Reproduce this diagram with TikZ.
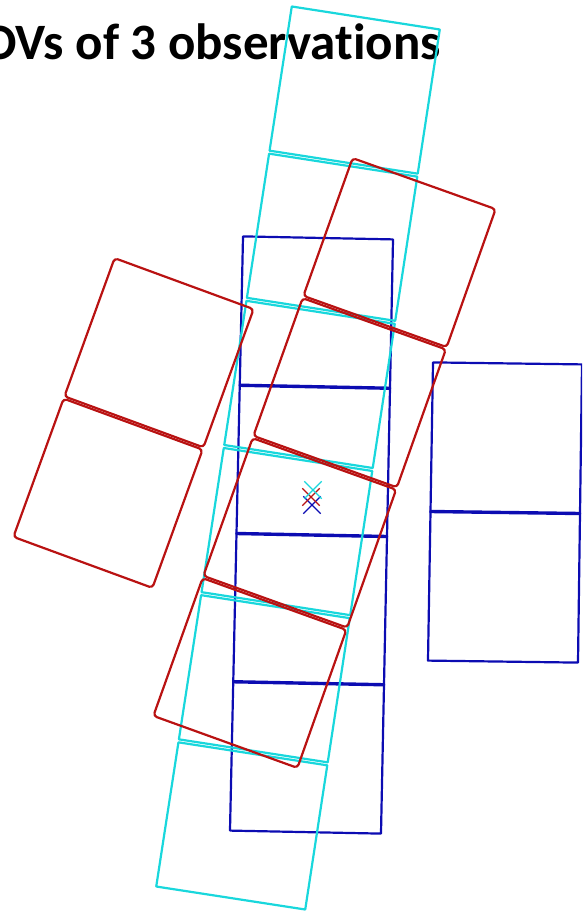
\documentclass[tikz,border=0pt]{standalone}
\usepackage{fontspec}
\setmainfont{Carlito}[Ligatures=NoCommon]
\usetikzlibrary{calc, shapes.misc}
\definecolor{fovcyan}{RGB}{25,215,220}
\definecolor{fovblue}{RGB}{12,12,178}
\definecolor{fovred}{RGB}{185,18,18}

\begin{document}
\begin{tikzpicture}[
  x=1pt, y=-1pt,
  cell/.style={line width=2.2pt, line join=round},
  cyancell/.style={cell, draw=fovcyan},
  bluecell/.style={cell, draw=fovblue},
  redcell/.style={cell, draw=fovred, rounded corners=3.5pt},
  xmark/.style={cross out, draw=#1, line width=1.4pt, minimum size=16pt, inner sep=0pt}
]
\clip (0,0) rectangle (582,915);

% title (left end cut off by the frame)
\node[anchor=base east, inner sep=0pt, font=\fontsize{51}{60}\selectfont\bfseries] (title) at (441,60) {FOVs of 3 observations};

% blue observation, centre strip (4 cells)
\coordinate (bTL) at (243,237);
\coordinate (bTR) at (393,240);
\coordinate (bBL) at (230,830);
\coordinate (bBR) at (381,833);
\foreach \i [evaluate=\i as \ta using \i/4-0.001, evaluate=\i as \tb using (\i+1)/4+0.001] in {0,...,3}
  \draw[bluecell] ($(bTL)!\ta!(bBL)$) -- ($(bTR)!\ta!(bBR)$) -- ($(bTR)!\tb!(bBR)$) -- ($(bTL)!\tb!(bBL)$) -- cycle;

% blue observation, right strip (2 cells)
\coordinate (rTL) at (433,363);
\coordinate (rTR) at (582,365);
\coordinate (rBL) at (428,660);
\coordinate (rBR) at (578,662);
\foreach \i [evaluate=\i as \ta using \i/2-0.002, evaluate=\i as \tb using (\i+1)/2+0.002] in {0,1}
  \draw[bluecell] ($(rTL)!\ta!(rBL)$) -- ($(rTR)!\ta!(rBR)$) -- ($(rTR)!\tb!(rBR)$) -- ($(rTL)!\tb!(rBL)$) -- cycle;

% cyan observation (6 cells)
\coordinate (cTL) at (292,5);
\coordinate (cTR) at (440,28);
\coordinate (cBL) at (156,888);
\coordinate (cBR) at (305,911);
\foreach \i [evaluate=\i as \ta using \i/6+0.0017, evaluate=\i as \tb using (\i+1)/6-0.0017] in {0,...,5}
  \draw[cyancell] ($(cTL)!\ta!(cBL)$) -- ($(cTR)!\ta!(cBR)$) -- ($(cTR)!\tb!(cBR)$) -- ($(cTL)!\tb!(cBL)$) -- cycle;

% red observation, long strip (4 cells)
\coordinate (mTL) at (353,157);
\coordinate (mTR) at (496,208);
\coordinate (mBL) at (153,717);
\coordinate (mBR) at (297,769);
\foreach \i [evaluate=\i as \ta using \i/4+0.002, evaluate=\i as \tb using (\i+1)/4-0.002] in {0,...,3}
  \draw[redcell] ($(mTL)!\ta!(mBL)$) -- ($(mTR)!\ta!(mBR)$) -- ($(mTR)!\tb!(mBR)$) -- ($(mTL)!\tb!(mBL)$) -- cycle;

% red observation, left strip (2 cells)
\coordinate (lTL) at (115,257);
\coordinate (lTR) at (254,308);
\coordinate (lBL) at (13,538);
\coordinate (lBR) at (152,589);
\foreach \i [evaluate=\i as \ta using \i/2+0.004, evaluate=\i as \tb using (\i+1)/2-0.004] in {0,1}
  \draw[redcell] ($(lTL)!\ta!(lBL)$) -- ($(lTR)!\ta!(lBR)$) -- ($(lTR)!\tb!(lBR)$) -- ($(lTL)!\tb!(lBL)$) -- cycle;

% pointing centres
\node[xmark=fovblue] (xblue) at (312,505) {};
\node[xmark=fovred] (xred) at (311,497) {};
\node[xmark=fovcyan] (xcyan) at (313,490) {};
\end{tikzpicture}
\end{document}
